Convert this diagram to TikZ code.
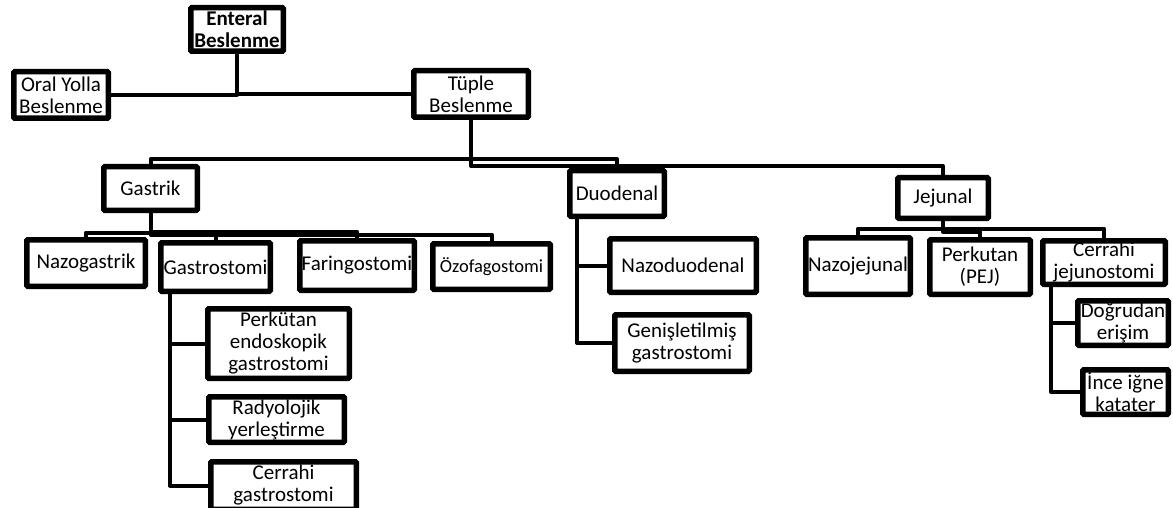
\documentclass[tikz,border=0pt]{standalone}
\usepackage{fontspec}
\setmainfont{Carlito}
\tikzset{
  box/.style={draw, line width=5.5pt, fill=white, inner sep=0pt, align=center,
    font=\fontsize{21}{22}\selectfont, rounded corners=1pt},
  conn/.style={line width=4pt, line join=round},
}
\newcommand\bx[6]{\node[box, minimum width={(#4-#2-5.5)*1pt}, minimum height={(#5-#3-5.5)*1pt}] (#1) at ({(#2+#4)/2},{(#3+#5)/2}) {#6};}
\begin{document}
\begin{tikzpicture}[x=1pt,y=-1pt]
\useasboundingbox (0,0) rectangle (1173,508);
\clip (0,0) rectangle (1173,508);
\bx{enteral}{188}{5}{286}{54}{\textbf{Enteral}\\\textbf{Beslenme}}
\bx{oral}{11}{69}{111}{121}{Oral Yolla\\Beslenme}
\bx{tuple}{411}{68}{531}{120}{Tüple\\Beslenme}
\bx{gastrik}{101}{164}{200}{213}{Gastrik}
\bx{duodenal}{567}{168}{667}{219}{Duodenal}
\bx{jejunal}{895}{175}{991}{221}{Jejunal}
\bx{nazog}{24}{237}{148}{289}{Nazogastrik}
\bx{gastrostomi}{158}{240}{273}{294}{Gastrostomi}
\bx{faringo}{297}{238}{417}{293}{Faringostomi}
\bx{ozofago}{430}{241}{553}{292}{\fontsize{18.5}{20}\selectfont Özofagostomi}
\bx{peg}{205}{306}{352}{381}{Perkütan\\endoskopik\\gastrostomi}
\bx{radyo}{206}{394}{347}{445}{Radyolojik\\yerleştirme}
\bx{cerrahig}{208}{459}{359}{512}{Cerrahi\\gastrostomi}
\bx{nazod}{607}{236}{759}{295}{Nazoduodenal}
\bx{genis}{612}{312}{752}{374}{Genişletilmiş\\gastrostomi}
\bx{nazoj}{803}{235}{913}{297}{Nazojejunal}
\bx{perkutan}{927}{237}{1033}{297}{Perkutan\\(PEJ)}
\bx{cerrahij}{1040}{238}{1168}{287}{Cerrahi\\jejunostomi}
\bx{dogrudan}{1075}{298}{1171}{348}{Doğrudan\\erişim}
\bx{ince}{1080}{367}{1171}{417}{İnce iğne\\katater}
% connectors
\draw[conn] (enteral.south) |- (oral.east);
\draw[conn] (enteral.south) |- (tuple.west);
\draw[conn] (tuple.south) -- ++(0,39) -| (gastrik.north);
\draw[conn] (tuple.south) -- ++(0,39) -| (duodenal.north);
\draw[conn] (tuple.south) -- ++(0,46) -| (jejunal.north);
\draw[conn] (gastrik.south) -- ++(0,19.5) -| (nazog.north);
\draw[conn] (gastrik.south) -- ++(0,20.5) -| (gastrostomi.north);
\draw[conn] (gastrik.south) -- ++(0,18.5) -| (faringo.north);
\draw[conn] (gastrik.south) -- ++(0,21.5) -| (ozofago.north);
\draw[conn] (jejunal.south) -- ++(0,7.5) -| (nazoj.north);
\draw[conn] (jejunal.south) -- ++(0,10.5) -| (perkutan.north);
\draw[conn] (jejunal.south) -- ++(0,7.5) -| (cerrahij.north);
\draw[conn] ([xshift=12pt]gastrostomi.south west) |- (peg.west);
\draw[conn] ([xshift=12pt]gastrostomi.south west) |- (radyo.west);
\draw[conn] ([xshift=12pt]gastrostomi.south west) |- (cerrahig.west);
\draw[conn] ([xshift=10pt]duodenal.south west) |- (nazod.west);
\draw[conn] ([xshift=10pt]duodenal.south west) |- (genis.west);
\draw[conn] ([xshift=11pt]cerrahij.south west) |- (dogrudan.west);
\draw[conn] ([xshift=11pt]cerrahij.south west) |- (ince.west);
\end{tikzpicture}
\end{document}
